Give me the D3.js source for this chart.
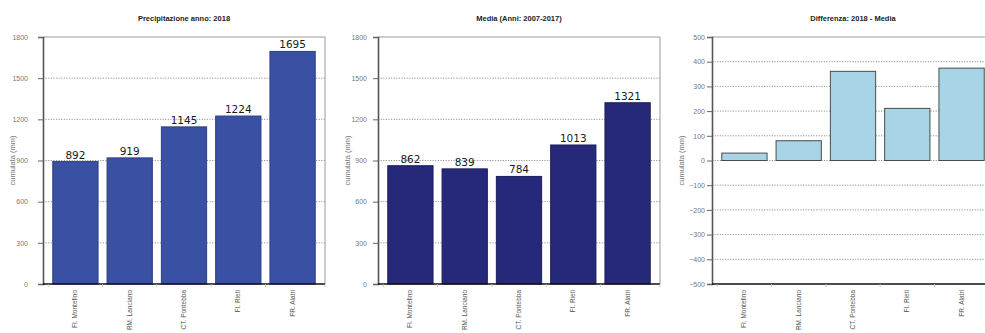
<!DOCTYPE html>
<html>
<head>
<meta charset="utf-8">
<script src="https://cdn.jsdelivr.net/npm/d3@7"></script>
<style>
  html, body { margin: 0; padding: 0; background: #fff; }
  svg { display: block; font-family: "Liberation Sans", Arial, sans-serif; }
</style>
</head>
<body>
<svg id="chart" width="985" height="333"></svg>
<script>
// Stations and rainfall totals (mm)
const stations = ["FI. Montefino", "RM. Lanciano", "CT. Pontebba", "FI. Rieti", "FR. Alatri"];
const rain2018 = [892, 919, 1145, 1224, 1695];
const rainMean = [862, 839, 784, 1013, 1321];
const rainDiff = [30, 80, 361, 211, 374];

const titles = ["Precipitazione anno: 2018", "Media (Anni: 2007-2017)", "Differenza: 2018 - Media"];
const yTitle = "cumulata (mm)";
const ticksTotals = [0, 300, 600, 900, 1200, 1500, 1800];
const ticksDiff = [-500, -400, -300, -200, -100, 0, 100, 200, 300, 400, 500];

const svg = d3.select("#chart");
const plotTop = 37, plotBottom = 284, plotW = 282;

const panels = [
  { left: 43,  pad: 10, values: rain2018, domain: [0, 1800], ticks: ticksTotals, fill: "#3a51a3", stroke: "#2c3f86", labels: true },
  { left: 378, pad: 6,  values: rainMean, domain: [0, 1800], ticks: ticksTotals, fill: "#26297a", stroke: "#1c1e5e", labels: true },
  { left: 712, pad: 2,  values: rainDiff, domain: [-500, 500], ticks: ticksDiff, fill: "#a8d5e6", stroke: "#4a4a4a", labels: false }
];

panels.forEach((p, i) => {
  const g = svg.append("g");
  const x = d3.scaleBand().domain(stations).range([p.left, p.left + plotW])
    .paddingInner(0.166).paddingOuter(0.18);
  const y = d3.scaleLinear().domain(p.domain).range([plotBottom, plotTop]);

  // title
  g.append("text")
    .attr("x", p.left + plotW / 2).attr("y", 21)
    .attr("text-anchor", "middle")
    .attr("font-size", 7.5).attr("font-weight", "bold").attr("fill", "#222")
    .text(titles[i]);

  // dotted grid
  g.append("g").selectAll("line")
    .data(p.ticks.filter(t => t !== p.domain[0] && t !== p.domain[1]))
    .join("line")
    .attr("x1", p.left).attr("x2", p.left + plotW)
    .attr("y1", d => y(d)).attr("y2", d => y(d))
    .attr("stroke", "#8a8a8a").attr("stroke-width", 0.9)
    .attr("stroke-dasharray", "1.2,1.4");

  // frame: top and right
  g.append("line").attr("x1", p.left).attr("x2", p.left + plotW)
    .attr("y1", plotTop).attr("y2", plotTop).attr("stroke", "#9a9a9a").attr("stroke-width", 1);
  g.append("line").attr("x1", p.left + plotW).attr("x2", p.left + plotW)
    .attr("y1", plotTop).attr("y2", plotBottom).attr("stroke", "#9a9a9a").attr("stroke-width", 1);

  // bars
  g.append("g").selectAll("rect")
    .data(p.values)
    .join("rect")
    .attr("x", (d, j) => x(stations[j]))
    .attr("width", x.bandwidth())
    .attr("y", d => y(Math.max(0, d)))
    .attr("height", d => Math.abs(y(d) - y(0)))
    .attr("fill", p.fill)
    .attr("stroke", p.stroke).attr("stroke-width", 1);

  // value labels
  if (p.labels) {
    g.append("g").selectAll("text")
      .data(p.values)
      .join("text")
      .attr("x", (d, j) => x(stations[j]) + x.bandwidth() / 2)
      .attr("y", d => y(d) - 3)
      .attr("text-anchor", "middle")
      .attr("font-family", "DejaVu Sans, sans-serif")
      .attr("font-size", 10.5).attr("fill", "#1a1a1a")
      .text(d => d);
  }

  // y axis
  const yAxis = d3.axisLeft(y).tickValues(p.ticks).tickFormat(d3.format("d")).tickSize(5).tickPadding(p.pad);
  const ya = g.append("g").attr("transform", `translate(${p.left},0)`).call(yAxis);
  ya.select(".domain").attr("stroke", "#555").attr("stroke-width", 1.6);
  ya.selectAll(".tick line").attr("stroke", "#666");
  ya.selectAll(".tick text").attr("font-size", 7).attr("fill", "#777")
    .attr("font-family", "Liberation Sans, Arial, sans-serif");

  // x axis at the bottom
  const xa = g.append("g").attr("transform", `translate(0,${plotBottom})`)
    .call(d3.axisBottom(x).tickSize(0).tickPadding(0));
  xa.select(".domain").remove();
  xa.selectAll(".tick text")
    .attr("font-size", 6.5).attr("fill", "#555")
    .attr("font-family", "Liberation Sans, Arial, sans-serif")
    .attr("transform", "rotate(-90)")
    .attr("text-anchor", "end")
    .attr("dx", "-6").attr("dy", "0.3em")
    .attr("x", 0).attr("y", 0);
  g.append("line").attr("x1", p.left).attr("x2", p.left + plotW)
    .attr("y1", plotBottom).attr("y2", plotBottom).attr("stroke", "#111").attr("stroke-width", 1.5);

  // small marks between categories under the axis
  const bounds = stations.map(s => x(s) - x.step() * x.paddingInner() / 2).concat([p.left + plotW]);
  g.append("g").selectAll("line").data(bounds).join("line")
    .attr("x1", d => d).attr("x2", d => d)
    .attr("y1", plotBottom).attr("y2", plotBottom + 3)
    .attr("stroke", "#bbb").attr("stroke-width", 0.8);

  // y title
  g.append("text")
    .attr("transform", `translate(${p.left - 28},${(plotTop + plotBottom) / 2}) rotate(-90)`)
    .attr("text-anchor", "middle")
    .attr("font-size", 7.5).attr("fill", "#777")
    .text(yTitle);
});
</script>
</body>
</html>
